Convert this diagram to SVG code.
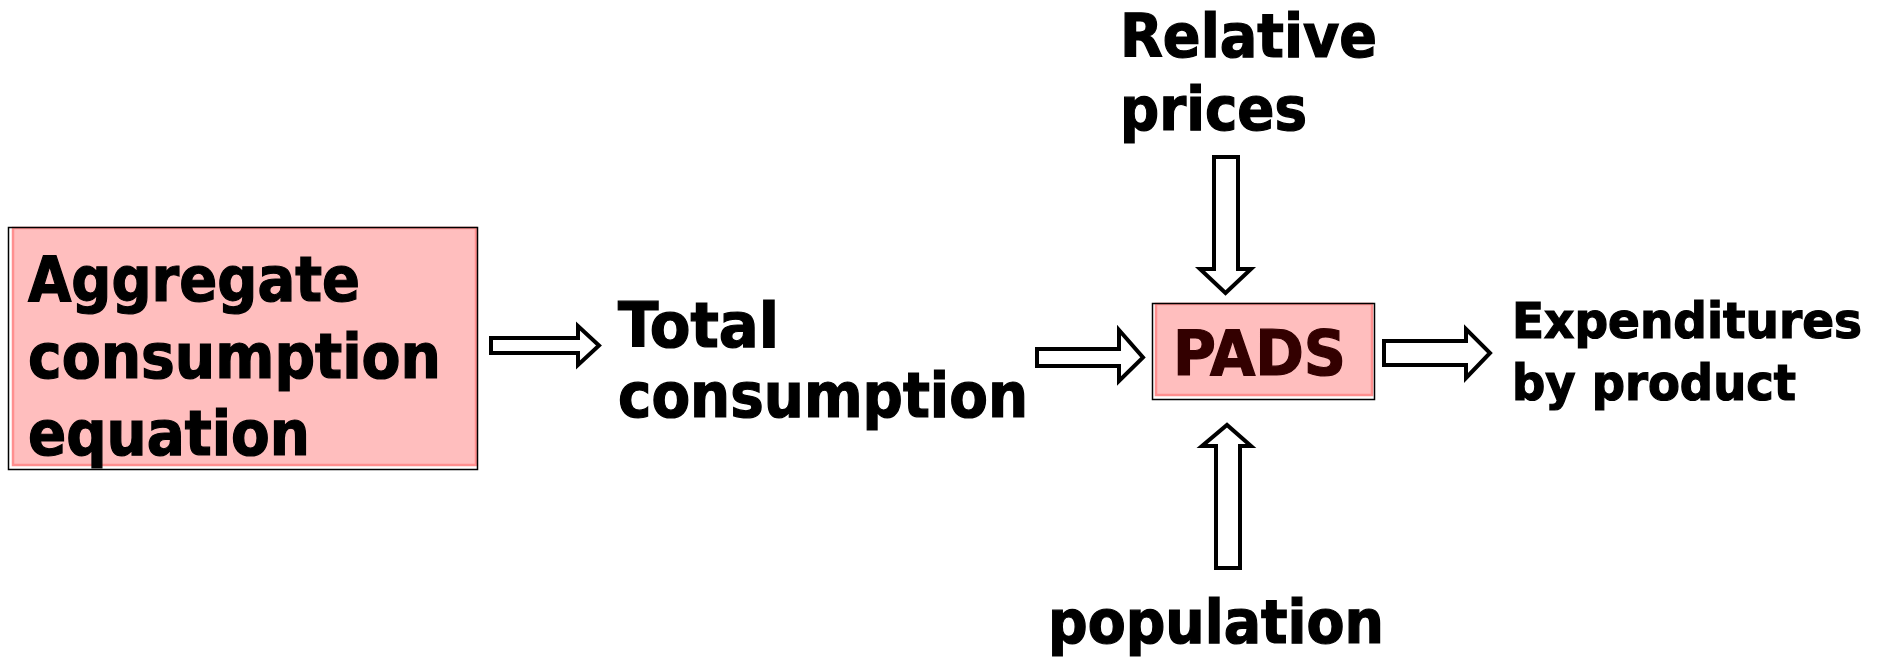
<svg xmlns="http://www.w3.org/2000/svg" width="1879" height="662" viewBox="0 0 1879 662">
<style>
.t{font-family:"DejaVu Sans Condensed","DejaVu Sans",sans-serif;font-weight:bold;fill:#000;stroke:#000;stroke-width:1.2}
.frame{fill:none;stroke:#000;stroke-width:1.5}
.pink{fill:#ffbebe;stroke:#ff8f8f;stroke-width:2.5}
.arr{fill:#fff;stroke:#000;stroke-width:4;stroke-linejoin:miter}
</style>
<rect width="1879" height="662" fill="#fff"/>
<g id="aggregate">
<rect class="pink" x="13" y="228" width="463" height="237"/>
<rect class="frame" x="8.5" y="227.5" width="469" height="242"/>
<text class="t" font-size="62" x="28" y="301" textLength="332" lengthAdjust="spacingAndGlyphs">Aggregate</text>
<text class="t" font-size="62" x="28" y="378" textLength="413" lengthAdjust="spacingAndGlyphs">consumption</text>
<text class="t" font-size="62" x="28" y="455" textLength="282" lengthAdjust="spacingAndGlyphs">equation</text>
</g>
<g id="total">
<text class="t" font-size="62" x="618" y="347" textLength="161" lengthAdjust="spacingAndGlyphs">Total</text>
<text class="t" font-size="62" x="618" y="417" textLength="410" lengthAdjust="spacingAndGlyphs">consumption</text>
</g>
<g id="pads">
<rect class="pink" x="1156" y="304" width="216" height="91"/>
<rect class="frame" x="1152.5" y="303.5" width="222" height="96"/>
<text class="t" font-size="62" x="1173" y="375" textLength="173" lengthAdjust="spacingAndGlyphs" style="fill:#330000;stroke:#330000">PADS</text>
</g>
<g id="relative">
<text class="t" font-size="61" x="1120" y="57" textLength="257" lengthAdjust="spacingAndGlyphs">Relative</text>
<text class="t" font-size="61" x="1120" y="130" textLength="187" lengthAdjust="spacingAndGlyphs">prices</text>
</g>
<g id="expenditures">
<text class="t" font-size="50" x="1512" y="338" textLength="350" lengthAdjust="spacingAndGlyphs">Expenditures</text>
<text class="t" font-size="50" x="1512" y="400" textLength="284" lengthAdjust="spacingAndGlyphs">by product</text>
</g>
<g id="population">
<text class="t" font-size="60" x="1048" y="643" textLength="336" lengthAdjust="spacingAndGlyphs">population</text>
</g>
<g id="connectors">
<path class="arr" d="M491,338 H578 V326 L599,345.5 L578,365 V353 H491 Z"/>
<path class="arr" d="M1037,349 H1119 V330 L1143,357.5 L1119,381 V366 H1037 Z"/>
<path class="arr" d="M1384,341 H1466 V329 L1490,353 L1466,378 V365 H1384 Z"/>
<path class="arr" d="M1214,157 H1238 V269 H1251 L1225.5,293 L1200,269 H1214 Z"/>
<path class="arr" d="M1216,568 H1240 V446 H1251 L1227,425 L1202,446 H1216 Z"/>
</g>
</svg>
